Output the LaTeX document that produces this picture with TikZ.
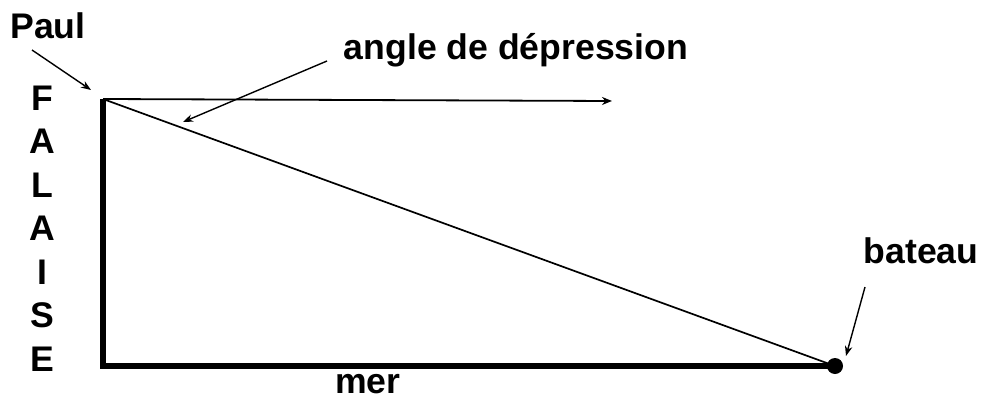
\documentclass[tikz,border=0pt]{standalone}
\usepackage{fontspec}
\setmainfont{Liberation Sans}
\usetikzlibrary{arrows.meta}
\begin{document}
\begin{tikzpicture}[x=1pt,y=-1pt,
  lbl/.style={font=\bfseries\fontsize{35.6}{42}\selectfont, inner sep=0pt, anchor=base},
  thin arrow/.style={line width=1.4pt, -{Stealth[length=10pt,width=7.5pt]}},
  thick line/.style={line width=5.5pt}]
\useasboundingbox (0,0) rectangle (983,399);
% key points
\coordinate (P) at (103,99);
\coordinate (C) at (103,366);
\coordinate (B) at (835,366);
\coordinate (H) at (612,101);
% cliff and sea
\draw[thick line] (P) -- (C) -- (B);
% line of sight
\draw[line width=1.7pt] (P) -- (B);
% horizontal
\draw[line width=1.8pt, -{Stealth[length=10pt,width=8pt]}] (P) -- (H);
% boat
\fill (B) circle (8);
% labels
\node[lbl] (paul) at (48,38) {Paul};
\node[lbl] (angle) at (516,59) {angle de dépression};
\node[lbl] (bateau) at (921,263) {bateau};
\node[lbl] (mer) at (368,393) {mer};
\node[lbl] (f1) at (42,110) {F};
\node[lbl] (f2) at (42,153.5) {A};
\node[lbl] (f3) at (42,197) {L};
\node[lbl] (f4) at (42,240.5) {A};
\node[lbl] (f5) at (42,284) {I};
\node[lbl] (f6) at (42,327.5) {S};
\node[lbl] (f7) at (42,371) {E};
% pointer arrows
\coordinate (pa) at (32,50);
\coordinate (pb) at (91,90);
\coordinate (aa) at (327,61);
\coordinate (ab) at (183,122);
\coordinate (ba) at (865,287);
\coordinate (bb) at (846,356);
\draw[thin arrow] (pa) -- (pb);
\draw[thin arrow] (aa) -- (ab);
\draw[thin arrow] (ba) -- (bb);
\end{tikzpicture}
\end{document}
